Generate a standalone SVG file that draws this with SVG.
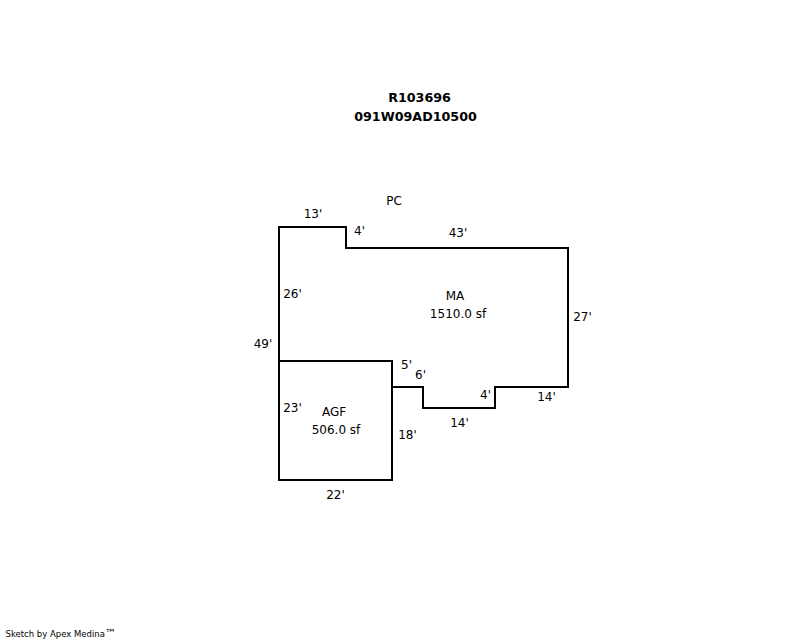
<svg xmlns="http://www.w3.org/2000/svg" width="800" height="640" viewBox="0 0 800 640">
<style>
text{font-family:"DejaVu Sans",Verdana,sans-serif;font-size:12px;fill:#000;text-anchor:middle}
.t{font-size:12.7px;font-weight:bold}
.c{font-size:8.500px;text-anchor:start}
.m{font-size:11px}
.w{fill:none;stroke:#000;stroke-width:2;shape-rendering:crispEdges}
</style>
<rect width="800" height="640" fill="#fff"/>
<g id="title"><text class="t" x="419.500" y="102">R103696</text><text class="t" x="415.500" y="121">091W09AD10500</text></g>
<g id="connectors">
<path class="w" d="M279 361V227H346V248H568V387H495V408H423V387H392"/>
</g>
<g id="node-agf"><rect class="w" x="279" y="361" width="113" height="119"/><text x="334" y="416">AGF</text><text x="336" y="434">506.0 sf</text></g>
<g id="node-ma"><text x="455" y="300">MA</text><text x="458" y="318">1510.0 sf</text></g>
<g id="node-pc"><text x="394" y="205">PC</text></g>
<g id="dimensions">
<text x="313" y="218">13'</text><text x="359.500" y="235">4'</text><text x="458" y="237">43'</text>
<text x="292.500" y="298">26'</text><text x="263" y="348">49'</text><text x="582.500" y="321">27'</text>
<text x="406.500" y="369">5'</text><text x="420.500" y="379">6'</text><text x="485.500" y="399">4'</text>
<text x="546.500" y="401">14'</text><text x="459.500" y="427">14'</text><text x="292.500" y="412">23'</text>
<text x="407.500" y="439">18'</text><text x="335.500" y="499">22'</text>
</g>
<text class="c" x="5.500" y="637">Sketch by Apex Medina<tspan class="m">™</tspan></text>
</svg>
